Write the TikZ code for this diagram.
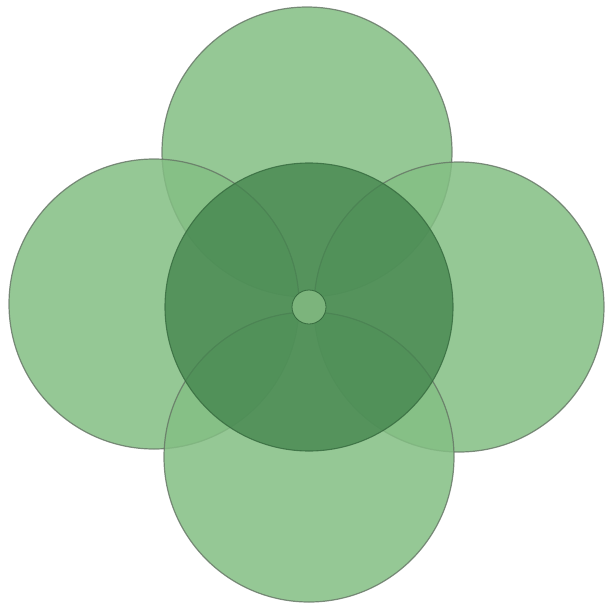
\documentclass[tikz,border=0pt]{standalone}
\definecolor{leafgreen}{RGB}{131,190,131}
\definecolor{coregreen}{RGB}{67,133,77}
\definecolor{rimgray}{RGB}{100,116,100}
\begin{document}
\begin{tikzpicture}[x=1pt,y=-1pt]
    \useasboundingbox (0,0) rectangle (609,607);
    \coordinate (hub) at (309,307);
    \foreach \x/\y in {307/152, 154/304, 459/307, 309/457}
      \draw[rimgray, line width=1.2pt, draw opacity=0.8, fill=leafgreen, fill opacity=0.85] (\x,\y) circle (145);
    \draw[coregreen!80!black, line width=1.1pt, draw opacity=0.8, fill=coregreen, fill opacity=0.78] (hub) circle (144);
    \draw[coregreen!80!black, line width=0.8pt, fill=leafgreen!95!black] (hub) circle (17);
\end{tikzpicture}
\end{document}
